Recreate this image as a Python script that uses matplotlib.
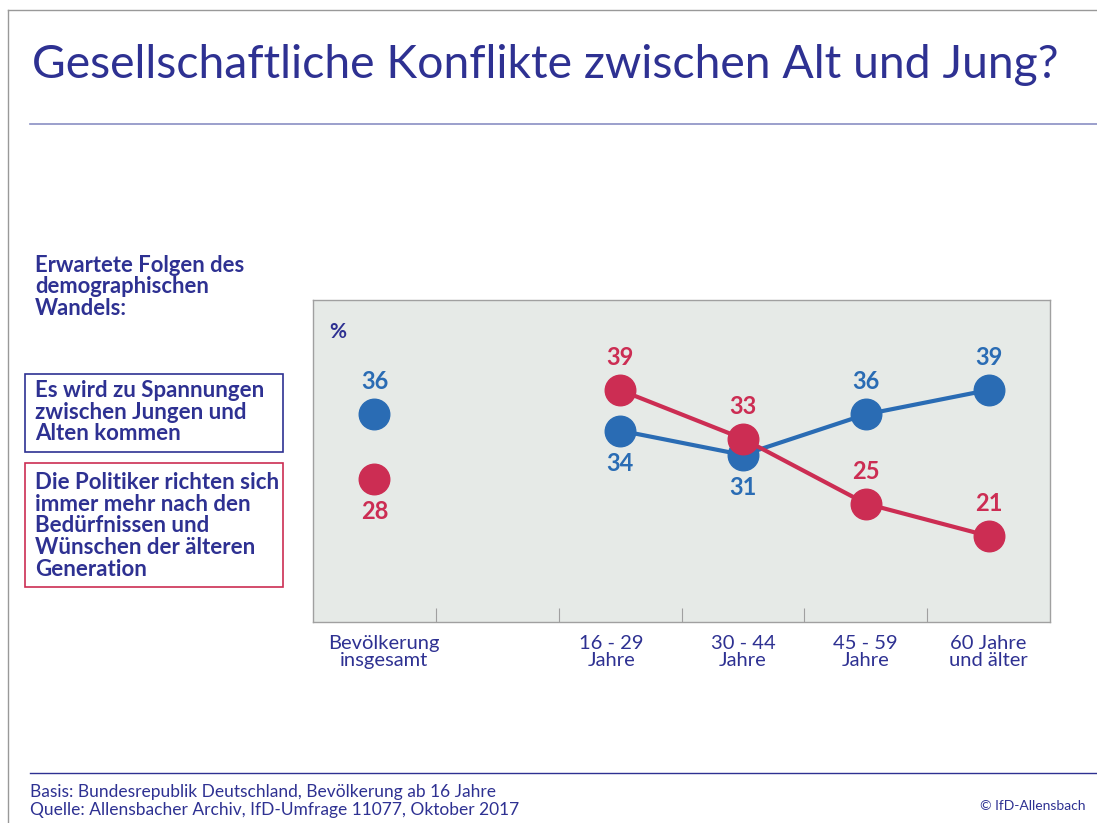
import matplotlib.pyplot as plt
from matplotlib.patches import Rectangle
from matplotlib.lines import Line2D

# data
categories = ["Bevölkerung\ninsgesamt", "16 - 29\nJahre", "30 - 44\nJahre", "45 - 59\nJahre", "60 Jahre\nund älter"]
positions = [0, 2, 3, 4, 5]
label_shift = [0.08, -0.07, 0.0, 0.0, 0.0]
spannungen = [36, 34, 31, 36, 39]
politiker = [28, 39, 33, 25, 21]
spannungen_above = [True, False, False, True, True]
politiker_above = [False, True, True, True, True]

navy = "#2e3192"
blue = "#2a6cb4"
red = "#cc2d53"
bg = "#e6eae7"

plt.rcParams['font.family'] = ['Lato', 'DejaVu Sans']

fig = plt.figure(figsize=(10.97, 8.23), dpi=100)
W, H = 1097, 823


def fx(x):
    return x / W


def fy(y):
    return 1 - y / H


# page frame and rules
fig.add_artist(Line2D([fx(8), fx(8)], [0, fy(10)], color="#999999", lw=1))
fig.add_artist(Line2D([fx(8), 1], [fy(10), fy(10)], color="#999999", lw=1))
fig.add_artist(Line2D([fx(30), 1], [fy(124), fy(124)], color="#8a8fc4", lw=1.2))
fig.add_artist(Line2D([fx(30), 1], [fy(773), fy(773)], color=navy, lw=1))

fig.text(fx(32), fy(65), "Gesellschaftliche Konflikte zwischen Alt und Jung?",
         color=navy, fontsize=33.4, va="center", ha="left", fontweight="normal")

fig.text(fx(35), fy(287), "Erwartete Folgen des\ndemographischen\nWandels:",
         color=navy, fontsize=15.8, fontweight="bold", va="center", ha="left",
         linespacing=1.05)

# legend boxes
fig.add_artist(Rectangle((fx(25), fy(452)), fx(258), fy(374) - fy(452),
                         fill=False, edgecolor=navy, lw=1.2))
fig.text(fx(35), fy(412), "Es wird zu Spannungen\nzwischen Jungen und\nAlten kommen",
         color=navy, fontsize=16, fontweight="bold", va="center", ha="left",
         linespacing=1.05)
fig.add_artist(Rectangle((fx(25), fy(587)), fx(258), fy(463) - fy(587),
                         fill=False, edgecolor=red, lw=1.2))
fig.text(fx(35), fy(526), "Die Politiker richten sich\nimmer mehr nach den\nBedürfnissen und\nWünschen der älteren\nGeneration",
         color=navy, fontsize=16, fontweight="bold", va="center", ha="left",
         linespacing=1.05)

# footer
fig.text(fx(30), fy(792), "Basis: Bundesrepublik Deutschland, Bevölkerung ab 16 Jahre",
         color=navy, fontsize=12.5, va="center", ha="left")
fig.text(fx(30), fy(810), "Quelle: Allensbacher Archiv, IfD-Umfrage 11077, Oktober 2017",
         color=navy, fontsize=12.5, va="center", ha="left")
fig.text(fx(1085), fy(806), "© IfD-Allensbach", color=navy, fontsize=10,
         va="center", ha="right")

ax = fig.add_axes([fx(313), fy(622), fx(737), fy(300) - fy(622)])
ax.set_facecolor(bg)
ax.set_xlim(-0.5, 5.5)
ax.set_ylim(10.4, 50.1)
for s in ax.spines.values():
    s.set_color("#a0a0a0")
    s.set_linewidth(1)

# single points for total population
ax.plot(positions[:1], spannungen[:1], "o", color=blue, ms=22, zorder=3)
ax.plot(positions[:1], politiker[:1], "o", color=red, ms=22, zorder=3)
# connected series for age groups
ax.plot(positions[1:], spannungen[1:], "-o", color=blue, ms=22, lw=3, zorder=3)
ax.plot(positions[1:], politiker[1:], "-o", color=red, ms=22, lw=3, zorder=4)

off = 4.0
for x, v, up in zip(positions, spannungen, spannungen_above):
    ax.text(x, v + off if up else v - off, str(v), color=blue, fontsize=17,
            fontweight="bold", ha="center", va="center")
for x, v, up in zip(positions, politiker, politiker_above):
    ax.text(x, v + off if up else v - off, str(v), color=red, fontsize=17,
            fontweight="bold", ha="center", va="center")

ax.text(0.022, 0.9, "%", transform=ax.transAxes, color=navy, fontsize=15,
        fontweight="bold", ha="left", va="center")

ax.set_yticks([])
ax.set_xticks([0.5, 1.5, 2.5, 3.5, 4.5])
ax.set_xticklabels([])
ax.tick_params(axis="x", direction="in", length=10, color="#a0a0a0")
for x, lab, sh in zip(positions, categories, label_shift):
    ax.text(x + sh, 10.4 - 1.6, lab, color=navy, fontsize=14.5,
            ha="center", va="top", linespacing=1.0)

fig.savefig("out.png", dpi=100)
